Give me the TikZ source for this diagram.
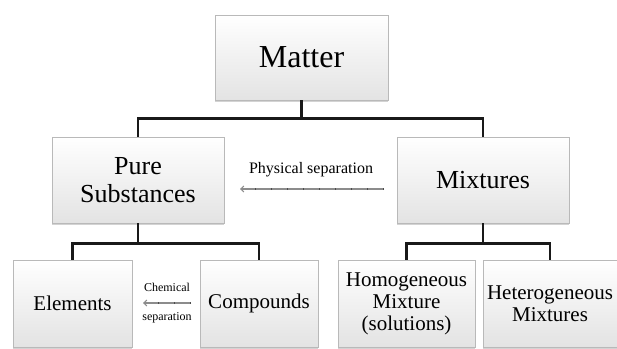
\documentclass[tikz,border=0pt]{standalone}
\usepackage{fontspec}
\setmainfont{Liberation Serif}
\usepackage{tikz}
\usetikzlibrary{arrows.meta, shadows}

\begin{document}
\begin{tikzpicture}[x=1pt, y=1pt,
  box/.style={draw=gray!55, line width=0.6pt, top color=white, bottom color=gray!22,
    align=center, inner sep=0pt,
    drop shadow={shadow xshift=0pt, shadow yshift=-2pt, opacity=0.35}},
  conn/.style={line width=2.8pt, black!90},
  sep/.style={gray!90, line width=1.1pt, {Straight Barb[length=3pt, width=6pt]}-},
  ticks/.style={black!70, line width=2.4pt, dash pattern=on 0.9pt off 15.1pt}]
\useasboundingbox (0,0) rectangle (617,348);
% level 1
\node[box, minimum width=173, minimum height=85, font=\fontsize{32}{34}\selectfont] (matter) at (301.5,290.5) {Matter};
% level 2
\node[box, minimum width=172, minimum height=86, font=\fontsize{26}{27.5}\selectfont] (pure) at (138,168) {Pure\\Substances};
\node[box, minimum width=172, minimum height=86, font=\fontsize{26}{27.5}\selectfont] (mix) at (483,168) {Mixtures};
% level 3
\node[box, minimum width=119, minimum height=87, font=\fontsize{21}{22}\selectfont] (elem) at (72.5,44.5) {Elements};
\node[box, minimum width=118, minimum height=87, font=\fontsize{21}{22}\selectfont] (comp) at (259,44.5) {Compounds};
\node[box, minimum width=137, minimum height=87, font=\fontsize{21}{22}\selectfont] (homo) at (406.5,44.5) {Homogeneous\\Mixture\\(solutions)};
\node[box, minimum width=134, minimum height=87, font=\fontsize{21}{22}\selectfont] (hetero) at (550,44.5) {Heterogeneous\\Mixtures};
% connectors
\draw[conn] (matter.south) -- ++(0,-18) -| (pure.north);
\draw[conn] (matter.south) -- ++(0,-18) -| (mix.north);
\draw[conn] (pure.south) -- ++(0,-20) -| (elem.north);
\draw[conn] (pure.south) -- ++(0,-20) -| (comp.north);
\draw[conn] (mix.south) -- ++(0,-20) -| (homo.north);
\draw[conn] (mix.south) -- ++(0,-20) -| (hetero.north);
% separation arrows
\coordinate (physA) at (384,159);
\coordinate (physB) at (240,159);
\draw[sep] (physB) -- (physA);
\draw[ticks] (physA) -- (physB);
\node[font=\fontsize{16}{18}\selectfont] (phys) at (311,178) {Physical separation};
\coordinate (chemA) at (191,45);
\coordinate (chemB) at (143,45);
\draw[sep] (chemB) -- (chemA);
\draw[ticks] (chemA) -- (chemB);
\node[font=\fontsize{12}{13}\selectfont] (chem1) at (167,61) {Chemical};
\node[font=\fontsize{12}{13}\selectfont] (chem2) at (167,30) {separation};
\end{tikzpicture}
\end{document}
